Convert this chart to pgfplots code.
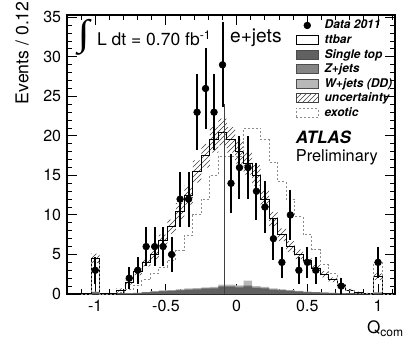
\documentclass[border=0pt]{standalone}
\usepackage{fontspec}
\setmainfont{TeX Gyre Heros}
\newfontfamily\intfont{Liberation Serif}
\usepackage{graphicx}
\usepackage{pgfplots}
\pgfplotsset{compat=1.18}
\usepackage{pgfplotstable}
\usetikzlibrary{patterns}
\usepgfplotslibrary{fillbetween}

\definecolor{stop}{gray}{0.38}
\definecolor{zjet}{gray}{0.52}
\definecolor{wjet}{gray}{0.72}
\definecolor{exo}{gray}{0.55}

\pgfplotstableread{
x tot up lo exo bd bm bl
-1.10 0 0 0 0 0 0 0
-1.03 4.5 5.1 3.9 4.0 0.2 0.25 0.3
-0.97 0 0 0 0 0 0 0
-0.91 0 0 0 0 0 0 0
-0.85 0.5 0.7 0.3 0.2 0.04 0.045 0.05
-0.79 1.5 1.8 1.2 0.6 0.08 0.09 0.1
-0.73 2.8 3.2 2.4 1.1 0.11 0.13 0.15
-0.67 4.0 4.5 3.5 1.8 0.19 0.22 0.25
-0.61 5.0 5.6 4.4 2.6 0.26 0.30 0.35
-0.55 6.8 7.5 6.1 3.4 0.34 0.39 0.45
-0.49 8.5 9.4 7.6 4.3 0.38 0.43 0.5
-0.43 10.5 11.5 9.5 5.5 0.45 0.52 0.6
-0.37 12.5 13.7 11.3 7.4 0.52 0.6 0.7
-0.31 15.5 16.9 14.1 10.0 0.56 0.64 0.75
-0.25 17.5 19.0 16.0 12.0 0.64 0.73 0.85
-0.19 19.5 21.1 17.9 15.0 0.68 0.77 0.9
-0.13 20.5 22.2 18.8 17.4 0.9 1.0 1.2
-0.07 19.5 21.1 17.9 17.4 0.9 1.0 1.2
-0.01 18.0 19.5 16.5 17.4 0.82 0.94 1.1
0.05 16.5 17.9 15.1 21.0 0.95 1.1 1.7
0.11 15.0 16.3 13.7 21.0 0.75 0.85 1.0
0.17 12.0 13.1 10.9 19.5 0.68 0.77 0.9
0.23 9.5 10.4 8.6 16.7 0.52 0.6 0.7
0.29 7.5 8.3 6.7 14.2 0.45 0.52 0.6
0.35 6.0 6.7 5.3 12.0 0.38 0.43 0.5
0.41 5.0 5.6 4.4 9.8 0.3 0.34 0.4
0.47 4.2 4.7 3.7 7.5 0.22 0.26 0.3
0.53 3.2 3.65 2.75 5.6 0.19 0.22 0.25
0.59 2.5 2.9 2.1 3.7 0.15 0.17 0.2
0.65 1.8 2.1 1.5 2.6 0.11 0.13 0.15
0.71 1.1 1.35 0.85 1.2 0.08 0.09 0.1
0.77 0.5 0.65 0.35 0.4 0.04 0.045 0.05
0.83 0.2 0.3 0.1 0.1 0.015 0.018 0.02
0.89 0.1 0.15 0.05 0.05 0 0 0
0.95 0 0 0 0 0 0 0
0.97 2.2 2.6 1.8 4.0 0.15 0.17 0.2
1.03 0 0 0 0 0 0 0
1.12 0 0 0 0 0 0 0
}\mc

\pgfplotstableread{
x y e
-1.00 3 1.73
-0.76 2 1.41
-0.70 3 1.73
-0.64 6 2.45
-0.58 6 2.45
-0.52 6 2.45
-0.46 5 2.24
-0.40 12 3.46
-0.34 12 3.46
-0.28 23 4.80
-0.22 26 5.10
-0.16 23 4.80
-0.10 29 5.39
-0.04 14 3.74
0.02 16 4.00
0.08 16 4.00
0.14 13 3.61
0.20 11 3.32
0.26 7 2.65
0.32 4 2.00
0.38 10 3.16
0.44 3 1.73
0.50 4 2.00
0.56 3 1.73
0.74 1 1.00
1.00 4 2.00
}\data

\begin{document}
\begin{tikzpicture}
\begin{axis}[
  name=ax,
  width=196.8pt, height=167.4pt, scale only axis,
  xmin=-1.2, xmax=1.12, ymin=0, ymax=35.3,
  xtick={-1,-0.5,0,0.5,1},
  xticklabels={-1,-0.5,0,0.5,1},
  minor xtick={-1.1,-0.9,-0.8,-0.7,-0.6,-0.4,-0.3,-0.2,-0.1,0.1,0.2,0.3,0.4,0.6,0.7,0.8,0.9,1.1},
  ytick={0,5,...,35},
  minor y tick num=4,
  major tick length=6pt, minor tick length=3pt,
  tick align=inside,
  axis line style={line width=0.8pt},
  every tick/.style={line width=0.6pt, black},
  tick label style={font=\fontsize{9.6}{11}\selectfont},
  /pgf/number format/assume math mode=true,
  ylabel={Events / 0.12},
  ylabel style={at={(axis description cs:-0.118,1.05)}, anchor=base east, inner sep=0pt, font=\fontsize{10.6}{12}\selectfont},
  xlabel={Q\textsubscript{comb}},
  xlabel style={at={(axis description cs:0.914,-0.143)}, anchor=base west, inner sep=0pt, font=\fontsize{10.3}{12}\selectfont},
  legend cell align=left,
  legend style={at={(axis cs:0.417,34.8)}, anchor=north west, draw=none, fill=none,
    inner sep=0pt, row sep=1.35pt, column sep=3.6pt,
    font=\fontsize{7.2}{9}\selectfont\bfseries\itshape,
    nodes={inner sep=0pt, text height=5.8pt, text depth=1.6pt}},
]
% legend entries
\addlegendimage{legend image code/.code={\fill[black] (6.5pt,0pt) circle (2pt);}}
\addlegendentry{Data 2011}
\addlegendimage{legend image code/.code={\draw[black, line width=0.5pt, fill=white] (0pt,-2.7pt) rectangle (13pt,2.7pt);}}
\addlegendentry{ttbar}
\addlegendimage{legend image code/.code={\draw[black!70, line width=0.5pt, fill=stop] (0pt,-2.7pt) rectangle (13pt,2.7pt);}}
\addlegendentry{Single top}
\addlegendimage{legend image code/.code={\draw[black!70, line width=0.5pt, fill=zjet] (0pt,-2.7pt) rectangle (13pt,2.7pt);}}
\addlegendentry{Z+jets}
\addlegendimage{legend image code/.code={\draw[black!70, line width=0.5pt, fill=wjet] (0pt,-2.7pt) rectangle (13pt,2.7pt);}}
\addlegendentry{W+jets (DD)}
\addlegendimage{legend image code/.code={\draw[black!75, line width=0.5pt, pattern=north east lines, pattern color=black!75] (0pt,-2.7pt) rectangle (13pt,2.7pt);}}
\addlegendentry{uncertainty}
\addlegendimage{legend image code/.code={\draw[exo, line width=0.6pt, dash pattern=on 1.2pt off 1.2pt] (0pt,-2.7pt) rectangle (13pt,2.7pt);}}
\addlegendentry{exotic}

% stacked backgrounds
\addplot[const plot mark left, fill=wjet, draw=none, forget plot] table[x=x,y=bl]{\mc} \closedcycle;
\addplot[const plot mark left, fill=zjet, draw=none, forget plot] table[x=x,y=bm]{\mc} \closedcycle;
\addplot[const plot mark left, fill=stop, draw=none, forget plot] table[x=x,y=bd]{\mc} \closedcycle;
% uncertainty band
\addplot[name path=up, const plot mark left, draw=none, forget plot] table[x=x,y=up]{\mc};
\addplot[name path=lo, const plot mark left, draw=none, forget plot] table[x=x,y=lo]{\mc};
\addplot[pattern=north east lines, pattern color=black!75, draw=none, forget plot] fill between[of=up and lo];
% total MC
\addplot[const plot mark left, black, line width=0.5pt, forget plot] table[x=x,y=tot]{\mc};
% exotic
\addplot[const plot mark left, exo, line width=0.6pt, dash pattern=on 1.2pt off 1.2pt, forget plot] table[x=x,y=exo]{\mc};
% thin vertical line
\addplot[black!75, line width=0.4pt, forget plot] coordinates {(-0.088,0) (-0.088,24)};
% data
\addplot[only marks, mark=*, mark size=2pt, black, forget plot,
  error bars/.cd, y dir=both, y explicit, error mark=none,
  error bar style={line width=1.2pt, black}]
  table[x=x, y=y, y error=e]{\data};

\node[anchor=base west, inner sep=0pt, font=\fontsize{10.5}{12}\selectfont] at (axis cs:-1.125,31.4) {\raisebox{2.3pt}{$\vcenter{\hbox{\resizebox*{7pt}{21.6pt}{\intfont\bfseries ∫}}}$}\hspace{4.5pt}L dt = 0.70 fb\textsuperscript{-1}};
\node[anchor=base, inner sep=0pt, font=\fontsize{11.5}{13}\selectfont] at (axis cs:0.136,31.8) {e+jets};
\node[anchor=base west, inner sep=0pt, font=\fontsize{10.2}{12}\selectfont\bfseries\itshape] at (axis cs:0.417,19.0) {ATLAS};
\node[anchor=base west, inner sep=0pt, font=\fontsize{9.8}{12}\selectfont] at (axis cs:0.417,16.8) {Preliminary};
\end{axis}
\pgfresetboundingbox
\path[use as bounding box] ([shift={(-40.2pt,-30.6pt)}]ax.south west) rectangle ([shift={(4.8pt,9pt)}]ax.north east);
\end{tikzpicture}
\end{document}
